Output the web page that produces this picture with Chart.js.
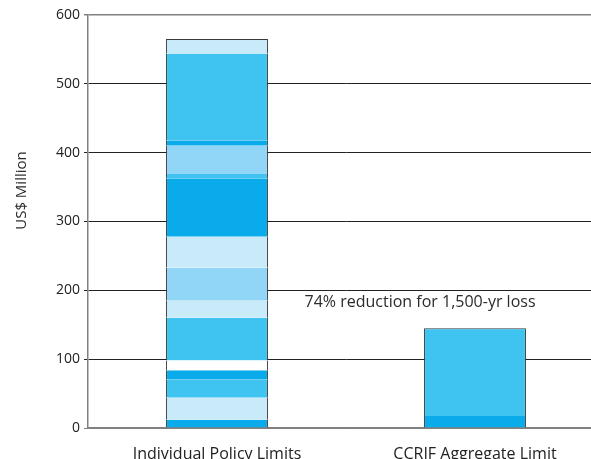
<!DOCTYPE html>
<html>
<head>
<meta charset="utf-8">
<script src="https://cdn.jsdelivr.net/npm/chart.js@4.4.1/dist/chart.umd.min.js"></script>
<style>
  html, body { margin: 0; padding: 0; background: #fff; overflow: hidden; }
  #wrap { width: 610px; height: 459px; }
</style>
</head>
<body>
<div id="wrap"><canvas id="chart"></canvas></div>
<script>
// categories and segment data (bottom to top)
const categories = ['Individual Policy Limits', 'CCRIF Aggregate Limit'];
const policySegments = [12, 32, 26, 14, 14, 62, 25, 48, 45, 85, 6, 41, 8, 126, 21];
const policyShades = ['dark', 'pale', 'mid', 'dark', 'white', 'mid', 'pale', 'light', 'pale', 'dark', 'mid', 'light', 'dark', 'mid', 'pale'];
const ccrifSegments = [17.5, 127.5];
const ccrifShades = ['dark', 'mid'];
const yTicks = [0, 100, 200, 300, 400, 500, 600];
const yTitle = 'US$ Million';
const note = '74% reduction for 1,500-yr loss';

const shade = {
  dark: '#0aabea',
  mid: '#3fc4f2',
  light: '#92d6f7',
  pale: '#c8eaf9',
  white: '#ffffff'
};

function segmentDatasets(values, shades, index) {
  return values.map((v, i) => {
    const data = categories.map(() => null);
    data[index] = v;
    const top = i === values.length - 1;
    return {
      data: data,
      backgroundColor: shade[shades[i]],
      borderColor: '#3a3a3a',
      borderWidth: { left: 1, right: 1, top: top ? 1 : 0, bottom: 0 },
      borderSkipped: false,
      stack: 's',
      barPercentage: 0.79,
      categoryPercentage: 0.5
    };
  });
}

const datasets = segmentDatasets(policySegments, policyShades, 0)
  .concat(segmentDatasets(ccrifSegments, ccrifShades, 1));

// annotation + y title (title sits above the axis middle in the original)
const textLabels = {
  id: 'textLabels',
  afterDatasetsDraw(chart) {
    const { ctx, scales } = chart;
    const x = (scales.x.getPixelForValue(0) + scales.x.getPixelForValue(1)) / 2 + 74;
    const y = scales.y.getPixelForValue(182);
    ctx.save();
    ctx.font = '16px "Open Sans"';
    ctx.fillStyle = '#2b2b2b';
    ctx.textAlign = 'center';
    ctx.textBaseline = 'middle';
    ctx.fillText(note, x, y);

    ctx.translate(22, scales.y.getPixelForValue(345));
    ctx.rotate(-Math.PI / 2);
    ctx.font = '15px "Open Sans"';
    ctx.fillText(yTitle, 0, 0);
    ctx.restore();
  }
};

new Chart(document.getElementById('chart'), {
  type: 'bar',
  data: { labels: categories, datasets: datasets },
  options: {
    responsive: true,
    maintainAspectRatio: false,
    animation: false,
    layout: { padding: { top: 15, right: 6, left: 0, bottom: 0 } },
    plugins: { legend: { display: false }, tooltip: { enabled: false } },
    scales: {
      x: {
        stacked: true,
        grid: { display: false },
        border: { color: '#808080', width: 1.5 },
        ticks: { color: '#222', font: { family: 'Open Sans', size: 16 }, padding: 9 },
        afterFit(scale) { scale.height = 31; }
      },
      y: {
        stacked: true,
        min: 0,
        max: 600,
        afterBuildTicks(scale) { scale.ticks = yTicks.map(v => ({ value: v })); },
        grid: {
          color: ctx => (ctx.tick && (ctx.tick.value === 600 || ctx.tick.value === 0)) ? '#808080' : '#222',
          lineWidth: ctx => (ctx.tick && ctx.tick.value === 600) ? 1.5 : 1,
          tickLength: 4,
          drawTicks: true
        },
        border: { color: '#808080', width: 1.5 },
        ticks: { color: '#222', font: { family: 'Open Sans', size: 14 }, padding: 4 },
        afterFit(scale) { scale.width = 88; }
      }
    }
  },
  plugins: [textLabels]
});
</script>
</body>
</html>
